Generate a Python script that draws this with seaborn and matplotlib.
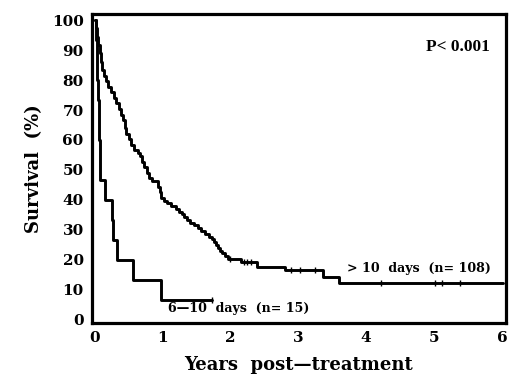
import numpy as np
import pandas as pd
import matplotlib
matplotlib.use('Agg')
import matplotlib.pyplot as plt
import seaborn as sns

# Kaplan-Meier curves (time in years, survival in %)
long_t = [0.00, 0.02, 0.03, 0.05, 0.07, 0.09, 0.11, 0.14, 0.17, 0.20, 0.24,
          0.28, 0.32, 0.36, 0.39, 0.42, 0.44, 0.46, 0.50, 0.54, 0.58, 0.63,
          0.67, 0.70, 0.73, 0.77, 0.80, 0.84, 0.93, 0.96, 0.98, 1.02, 1.07,
          1.13, 1.19, 1.24, 1.28, 1.32, 1.36, 1.41, 1.46, 1.52, 1.57, 1.62,
          1.68, 1.73, 1.76, 1.79, 1.82, 1.85, 1.88, 1.92, 1.96, 2.15, 2.39,
          2.81, 3.36, 3.60, 6.02]
long_s = [100.0, 97.2, 94.4, 91.7, 88.9, 86.1, 83.3, 81.5, 79.6, 77.8, 75.9,
          74.1, 72.2, 70.4, 68.5, 66.7, 63.9, 62.0, 60.2, 58.3, 56.5, 55.6,
          54.6, 52.8, 50.9, 49.1, 47.2, 46.3, 44.4, 42.6, 40.7, 39.8, 38.9,
          38.0, 37.0, 36.1, 35.2, 34.3, 33.3, 32.4, 31.5, 30.6, 29.6, 28.7,
          27.8, 26.9, 25.9, 25.0, 24.1, 23.1, 22.2, 21.3, 20.4, 19.4, 17.8,
          16.5, 14.2, 12.2, 12.2]
long_cens = [1.99, 2.20, 2.25, 2.30, 2.89, 3.02, 3.24, 4.22, 5.02, 5.12, 5.38]

short_t = [0.00, 0.025, 0.03, 0.04, 0.05, 0.06, 0.065, 0.07, 0.075, 0.15, 0.26,
           0.27, 0.33, 0.57, 0.97, 1.73]
short_s = [100.0, 93.3, 86.7, 80.0, 73.3, 66.7, 60.0, 53.3, 46.7, 40.0, 33.3,
           26.7, 20.0, 13.3, 6.7, 6.7]
short_cens = [1.73]

x_ticks = [0, 1, 2, 3, 4, 5, 6]
y_ticks = [0, 10, 20, 30, 40, 50, 60, 70, 80, 90, 100]


def surv_at(times, surv, t):
    idx = np.searchsorted(times, t, side='right') - 1
    return np.asarray(surv)[idx]


sns.set_style('white')
plt.rcParams['font.family'] = ['DejaVu Serif']
plt.rcParams['font.weight'] = 'bold'
plt.rcParams['text.color'] = 'black'
plt.rcParams['axes.labelcolor'] = 'black'
plt.rcParams['xtick.color'] = 'black'
plt.rcParams['ytick.color'] = 'black'

fig = plt.figure(figsize=(5.2, 3.9), dpi=100)
ax = fig.add_axes([0.177, 0.172, 0.796, 0.792])

for t, s, cens in [(long_t, long_s, long_cens), (short_t, short_s, short_cens)]:
    df = pd.DataFrame({'t': t, 's': s})
    sns.lineplot(data=df, x='t', y='s', ax=ax, color='black', lw=2.1,
                 drawstyle='steps-post', estimator=None, sort=False)
    cdf = pd.DataFrame({'t': cens, 's': [surv_at(t, s, c) for c in cens]})
    sns.scatterplot(data=cdf, x='t', y='s', ax=ax, marker='|', s=22,
                    color='black', linewidth=1.0)

ax.set_xlim(-0.04, 6.06)
ax.set_ylim(-1, 102)
ax.set_xticks(x_ticks)
ax.set_yticks(y_ticks)
ax.tick_params(axis='both', direction='out', length=3, width=1,
               labelsize=11, color='black', labelcolor='black', pad=3)
for lab in ax.get_xticklabels() + ax.get_yticklabels():
    lab.set_fontweight('bold')
for sp in ax.spines.values():
    sp.set_linewidth(2.3)
    sp.set_color('black')

ax.set_xlabel('Years  post\u2014treatment', fontsize=13, fontweight='bold',
              labelpad=8, color='black')
ax.set_ylabel('Survival  (%)', fontsize=13, fontweight='bold', labelpad=6,
              color='black')

ax.text(5.82, 91, 'P< 0.001', ha='right', va='center', fontsize=12.5,
        fontweight='bold', family='Liberation Serif', color='black')
ax.text(3.72, 17, '> 10  days  (n= 108)', ha='left', va='center', fontsize=9.1,
        fontweight='bold', color='black')
ax.text(1.08, 3.7, '6\u201410  days  (n= 15)', ha='left', va='center', fontsize=9.1,
        fontweight='bold', color='black')

fig.savefig('out.png', dpi=100)
